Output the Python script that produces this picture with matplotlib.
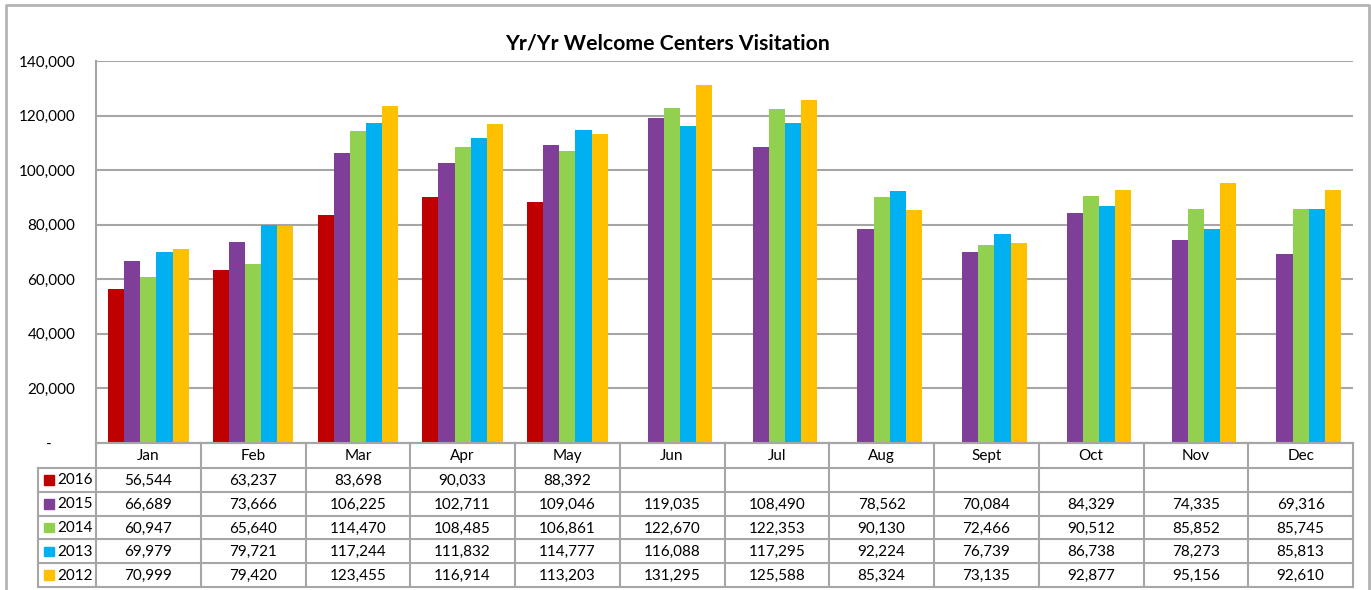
import matplotlib
matplotlib.use("Agg")
import matplotlib.pyplot as plt
import numpy as np

plt.rcParams['font.family'] = ['Lato', 'DejaVu Sans']

months = ["Jan", "Feb", "Mar", "Apr", "May", "Jun", "Jul", "Aug", "Sept", "Oct", "Nov", "Dec"]
years = ["2016", "2015", "2014", "2013", "2012"]
v2016 = [56544, 63237, 83698, 90033, 88392, None, None, None, None, None, None, None]
v2015 = [66689, 73666, 106225, 102711, 109046, 119035, 108490, 78562, 70084, 84329, 74335, 69316]
v2014 = [60947, 65640, 114470, 108485, 106861, 122670, 122353, 90130, 72466, 90512, 85852, 85745]
v2013 = [69979, 79721, 117244, 111832, 114777, 116088, 117295, 92224, 76739, 86738, 78273, 85813]
v2012 = [70999, 79420, 123455, 116914, 113203, 131295, 125588, 85324, 73135, 92877, 95156, 92610]
series = [v2016, v2015, v2014, v2013, v2012]
colors = ["#BE0000", "#7F3F98", "#92D050", "#00B0F0", "#FFC000"]
yticks = [0, 20000, 40000, 60000, 80000, 100000, 120000, 140000]
title = "Yr/Yr Welcome Centers Visitation"

W, H = 1371, 590
fig = plt.figure(figsize=(W / 100, H / 100), dpi=100)

# pixel layout
L, R, T, B = 96, 1353, 61, 443
ax = fig.add_axes([L / W, 1 - B / H, (R - L) / W, (B - T) / H])

x = np.arange(len(months))
bw = 0.154
for i, (s, c) in enumerate(zip(series, colors)):
    vals = [np.nan if v is None else v for v in s]
    ax.bar(x + (i - 2) * bw, vals, width=bw, color=c, edgecolor='none', zorder=3)

ax.set_xlim(-0.5, len(months) - 0.5)
ax.set_ylim(0, 140000)
ax.set_yticks(yticks)
ax.set_yticklabels(["-      " if t == 0 else f"{t:,}" for t in yticks], fontsize=11)
ax.tick_params(axis='y', length=0, pad=15)
ax.set_xticks([])
ax.grid(axis='y', color='#A6A6A6', linewidth=1.5, zorder=0)
for sp in ['top', 'right']:
    ax.spines[sp].set_visible(False)
for sp in ['left', 'bottom']:
    ax.spines[sp].set_color('#A6A6A6')
    ax.spines[sp].set_linewidth(1.5)

# overlay for frame, title and data table
ov = fig.add_axes([0, 0, 1, 1], facecolor='none')
ov.set_xlim(0, W)
ov.set_ylim(H, 0)
ov.axis('off')

lc = '#A6A6A6'
# outer frame
ov.plot([6, 6, 1369, 1369], [H + 5, 5, 5, H + 5], color='#B4B4B4', lw=2)

ov.text(668, 43, title, ha='center', va='center', fontsize=15.3, fontweight='bold')

# table
row_top = [B, 467.5, 491.5, 515.5, 539.3, 562.9]
row_bot = 586.5
cw = (R - L) / 12
# horizontal lines
ov.plot([L, R], [B, B], color=lc, lw=1.5)
for yv in row_top[1:] + [row_bot]:
    ov.plot([38, R], [yv, yv], color=lc, lw=1.5)
# vertical lines
ov.plot([38, 38], [row_top[1], row_bot], color=lc, lw=1.5)
for k in range(13):
    xv = L + k * cw
    ov.plot([xv, xv], [B, row_bot], color=lc, lw=1.5)
# header
for k, m in enumerate(months):
    ov.text(L + (k + 0.5) * cw, (row_top[0] + row_top[1]) / 2 + 1, m,
            ha='center', va='center', fontsize=11)
# rows
rows_y = row_top[1:] + [row_bot]
for r, (yr, s, c) in enumerate(zip(years, series, colors)):
    yc = (rows_y[r] + rows_y[r + 1]) / 2 + 1
    ov.add_patch(plt.Rectangle((44, yc - 5.5), 9.5, 9.5, color=c))
    ov.text(57, yc, yr, ha='left', va='center', fontsize=11)
    for k, v in enumerate(s):
        if v is not None:
            ov.text(L + (k + 0.5) * cw, yc, f"{v:,}", ha='center', va='center', fontsize=11)

fig.savefig("out.png", dpi=100)
